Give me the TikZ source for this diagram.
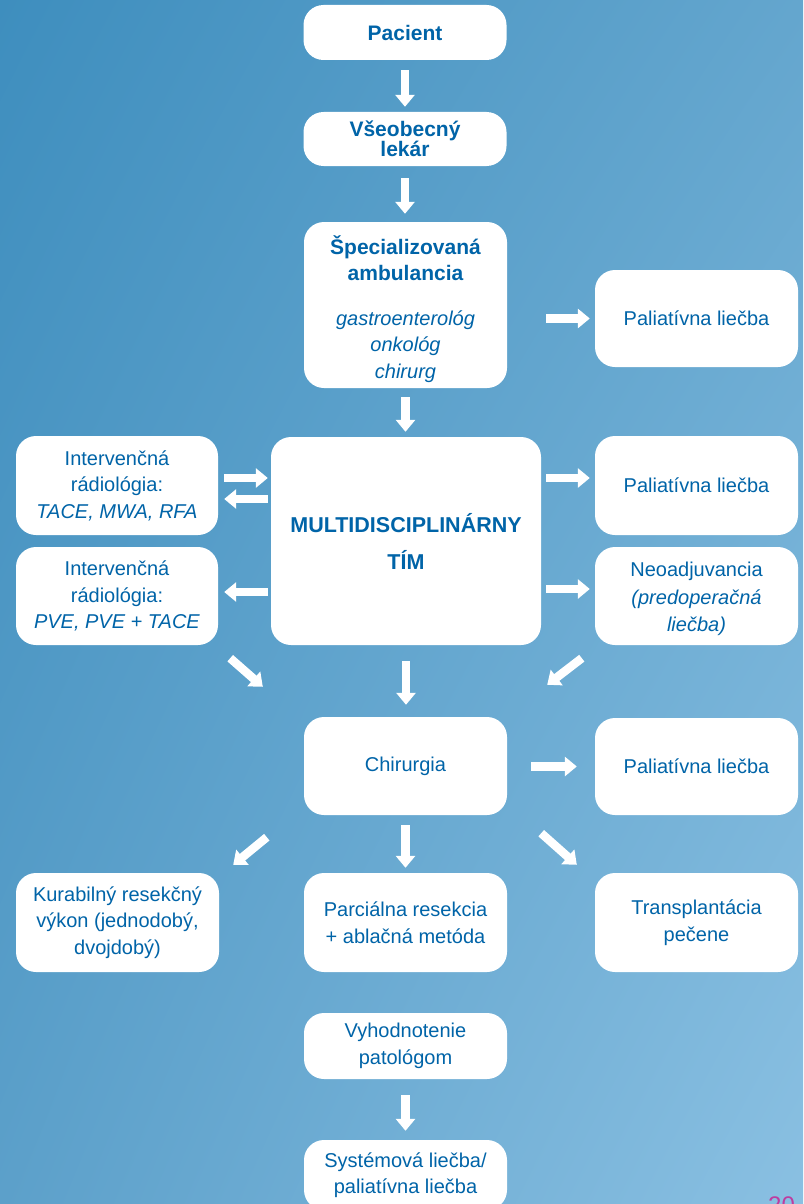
\documentclass[tikz,border=0pt]{standalone}
\usepackage{fontspec}
\setmainfont{Liberation Sans}
\usetikzlibrary{arrows.meta,shadings}
\definecolor{txt}{RGB}{0,100,168}
\definecolor{bgA}{RGB}{62,142,190}
\definecolor{bgB}{RGB}{100,166,206}
\definecolor{bgC}{RGB}{92,160,202}
\definecolor{bgD}{RGB}{138,192,226}
\definecolor{pagenum}{RGB}{190,60,160}
\newcommand{\bt}[1]{{\fontsize{21}{26}\selectfont\bfseries #1}}
\begin{document}
\begin{tikzpicture}[x=1pt,y=-1pt,
  box/.style={fill=white, rounded corners=20pt, minimum width=203pt, text=txt,
    align=center, inner sep=0pt, font=\fontsize{20}{26.5}\selectfont},
  arr/.style={white, line width=8.5pt, -{Triangle[length=12pt,width=19pt]}}]
\useasboundingbox (0,0) rectangle (803,1204);
\clip (0,0) rectangle (803,1204);
\shade[upper left=bgA, upper right=bgB, lower left=bgC, lower right=bgD] (0,0) rectangle (803,1204);

% nodes
\node[box, minimum height=55pt, font=\fontsize{21}{20}\selectfont\bfseries] (pac) at (405,32.5) {Pacient};
\node[box, minimum height=54pt, font=\fontsize{21}{20}\selectfont\bfseries] (lek) at (405,139) {Všeobecný\\lekár};
\node[box, minimum height=166pt] (spec) at (405.5,305) {\rule{0pt}{27pt}\bt{Špecializovaná}\\\bt{ambulancia}\\[18pt]\textit{gastroenterológ}\\\textit{onkológ}\\\textit{chirurg}};
\node[box, minimum height=97pt] (pal1) at (696.5,318.5) {Paliatívna liečba};
\node[box, minimum width=202pt, minimum height=99pt] (tace) at (117,485.5) {Intervenčná\\rádiológia:\\\textit{TACE, MWA, RFA}};
\node[box, minimum width=270pt, minimum height=208pt, font=\fontsize{21.5}{37}\selectfont\bfseries] (mdt) at (406,541) {MULTIDISCIPLINÁRNY\\TÍM};
\node[box, minimum height=99pt] (pal2) at (696.5,485.5) {Paliatívna liečba};
\node[box, minimum width=202pt, minimum height=98pt] (pve) at (117,596) {Intervenčná\\rádiológia:\\\textit{PVE, PVE + TACE}};
\node[box, minimum height=98pt] (neo) at (696.5,596) {\rule{0pt}{20pt}Neoadjuvancia\\[1.5pt]\textit{(predoperačná}\\\textit{liečba)}};
\node[box, minimum height=98pt] (chir) at (405.5,766) {Chirurgia};
\node[box, minimum height=97pt] (pal3) at (696.5,766.5) {Paliatívna liečba};
\node[box, minimum height=99pt] (kur) at (117.5,922.5) {Kurabilný resekčný\\výkon (jednodobý,\\dvojdobý)};
\node[box, minimum height=99pt] (parc) at (405.5,922.5) {Parciálna resekcia\\+ ablačná metóda};
\node[box, minimum height=99pt] (trans) at (696.5,922.5) {Transplantácia\\pečene};
\node[box, minimum height=66pt] (vyh) at (405.5,1046) {Vyhodnotenie\\patológom};
\node[box, minimum height=70pt] (sys) at (405.5,1175) {Systémová liečba/\\paliatívna liečba};
\node[anchor=north, inner sep=0pt, text=pagenum, font=\fontsize{24}{24}\selectfont] (pg) at (781.5,1197) {20};

% arrows
\draw[arr, shorten <=10pt, shorten >=5pt] (pac) -- (lek);
\draw[arr, shorten <=12pt, shorten >=8pt] (lek.south) -- (lek.south |- spec.north);
\draw[arr, shorten <=9pt, shorten >=5pt] (spec.south) -- (spec.south |- mdt.north);
\draw[arr, shorten <=39pt, shorten >=5pt] (pal1.west -| spec.east) -- (pal1.west);
\draw[arr, shorten <=5pt, shorten >=5pt] ([shift={(0,-7.5)}]pal2.west -| mdt.east) -- ([shift={(0,-7.5)}]pal2.west);
\draw[arr, shorten <=5pt, shorten >=5pt] ([shift={(0,-7)}]neo.west -| mdt.east) -- ([shift={(0,-7)}]neo.west);
\draw[arr, shorten <=6pt, shorten >=3pt] ([shift={(0,-7.5)}]tace.east) -- ([shift={(0,-7.5)}]tace.east -| mdt.west);
\draw[arr, shorten <=3pt, shorten >=6pt] ([shift={(0,13.5)}]tace.east -| mdt.west) -- ([shift={(0,13.5)}]tace.east);
\draw[arr, shorten <=3pt, shorten >=6pt] ([shift={(0,-4)}]pve.east -| mdt.west) -- ([shift={(0,-4)}]pve.east);
\draw[arr] ([shift={(12,13)}]pve.south east) -- ([shift={(-41,-30)}]chir.north west);
\draw[arr, shorten <=16pt, shorten >=12pt] (mdt.south) -- (mdt.south |- chir.north);
\draw[arr] ([shift={(-13,13)}]neo.south west) -- ([shift={(40,-32)}]chir.north east);
\draw[arr, shorten <=24pt, shorten >=18pt] (pal3.west -| chir.east) -- (pal3.west);
\draw[arr] ([shift={(-37,22)}]chir.south west) -- ([shift={(14,-8)}]kur.north east);
\draw[arr, shorten <=10pt, shorten >=5pt] (chir) -- (parc);
\draw[arr] ([shift={(34,18)}]chir.south east) -- ([shift={(-18,-8)}]trans.north west);
\draw[arr, shorten <=16pt, shorten >=9pt] (vyh) -- (sys);
\end{tikzpicture}
\end{document}
